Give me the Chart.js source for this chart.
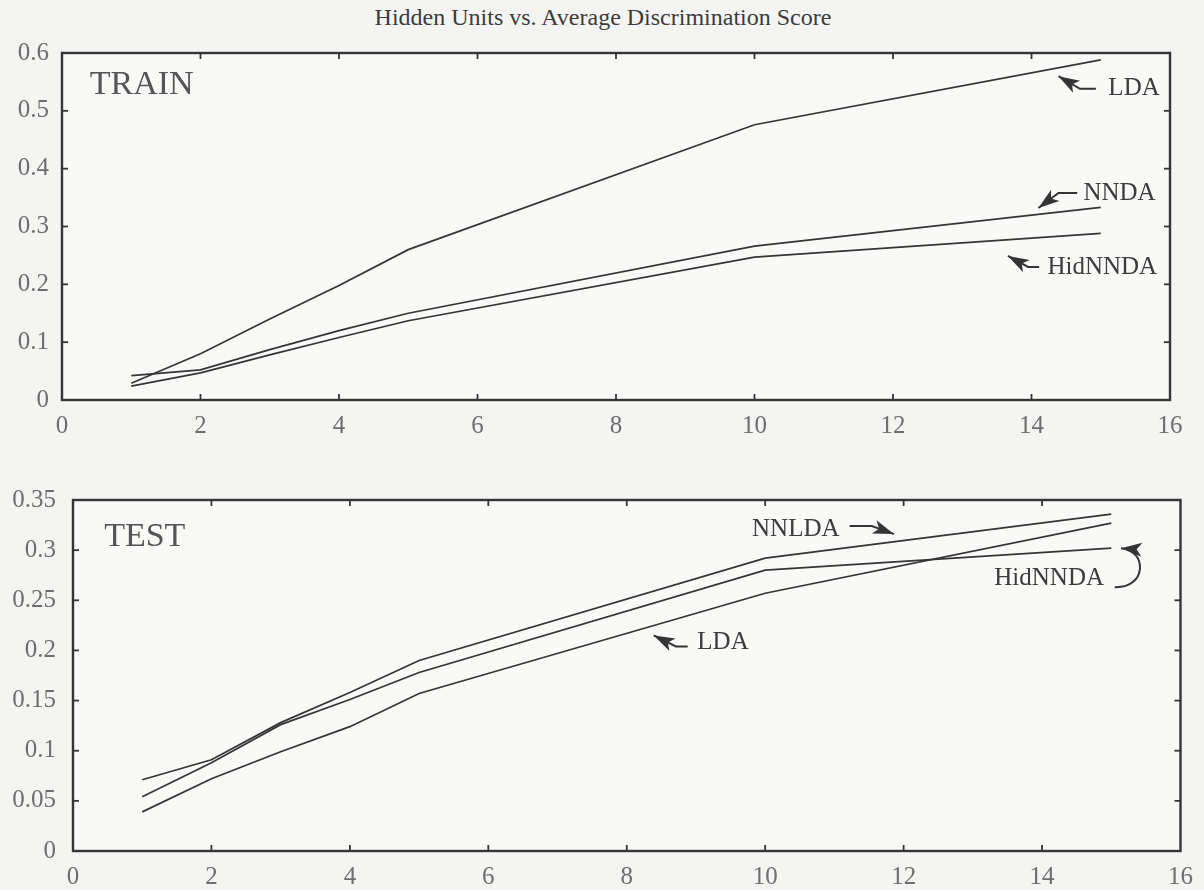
<!DOCTYPE html>
<html>
<head>
<meta charset="utf-8">
<script src="https://cdn.jsdelivr.net/npm/chart.js@4.4.1/dist/chart.umd.min.js"></script>
<style>
  html, body { margin: 0; padding: 0; width: 1204px; height: 890px; overflow: hidden; background: #f4f5f2; }
  body { position: relative; font-family: "Liberation Serif", "DejaVu Serif", serif; }
  #title { position: absolute; top: 4px; left: 603px; transform: translateX(-50%); white-space: nowrap;
           font-size: 24px; color: #3c3c3c; }
  canvas { position: absolute; left: 0; }
  #trainChart { top: 0; }
  #testChart { top: 450px; }
</style>
</head>
<body>
<div id="title">Hidden Units vs. Average Discrimination Score</div>
<canvas id="trainChart" width="1204" height="460"></canvas>
<canvas id="testChart" width="1204" height="440"></canvas>
<script>
// Number of hidden units (x) and average discrimination scores (y)
const hiddenUnits = [1, 2, 3, 4, 5, 10, 15];

const trainLDA     = [0.029, 0.080, 0.140, 0.198, 0.260, 0.476, 0.588];
const trainNNDA    = [0.042, 0.052, 0.087, 0.120, 0.150, 0.266, 0.333];
const trainHidNNDA = [0.024, 0.047, 0.078, 0.108, 0.137, 0.247, 0.288];

const testNNLDA    = [0.071, 0.091, 0.128, 0.158, 0.190, 0.292, 0.336];
const testHidNNDA  = [0.054, 0.088, 0.126, 0.151, 0.178, 0.280, 0.302];
const testLDA      = [0.039, 0.072, 0.099, 0.124, 0.157, 0.257, 0.327];

const xTicks = [0, 2, 4, 6, 8, 10, 12, 14, 16];

// Callouts, placed in data coordinates
const trainNotes = [
  { text: 'TRAIN', x: 0.40, y: 0.545, size: 34, color: '#555' },
  { text: 'LDA', x: 15.11, y: 0.538, size: 25 },
  { arrow: [[14.93, 0.538], [14.70, 0.538], [14.39, 0.560]] },
  { text: 'NNDA', x: 14.75, y: 0.358, size: 25 },
  { arrow: [[14.66, 0.358], [14.39, 0.358], [14.10, 0.332]] },
  { text: 'HidNNDA', x: 14.23, y: 0.230, size: 25 },
  { arrow: [[14.11, 0.230], [13.95, 0.230], [13.66, 0.249]] }
];
const testNotes = [
  { text: 'TEST', x: 0.45, y: 0.313, size: 34, color: '#555' },
  { text: 'NNLDA', x: 9.81, y: 0.321, size: 25 },
  { arrow: [[11.22, 0.324], [11.54, 0.324], [11.86, 0.316]] },
  { text: 'HidNNDA', x: 13.31, y: 0.272, size: 25 },
  { curve: [[15.05, 0.263], [15.52, 0.262], [15.52, 0.300], [15.14, 0.302]] },
  { text: 'LDA', x: 9.02, y: 0.208, size: 25 },
  { arrow: [[8.88, 0.204], [8.71, 0.204], [8.39, 0.215]] }
];

const INK = '#353535';
const TICK_COLOR = '#6e6e6e';
const SERIF = '"Liberation Serif", "DejaVu Serif", serif';

// Box frame around the plot area with inward tick marks on all four sides
const framePlugin = {
  id: 'frameTicks',
  beforeDatasetsDraw(chart) {
    const { ctx, chartArea: a } = chart;
    ctx.save();
    ctx.fillStyle = '#f9f9f7';
    ctx.fillRect(a.left, a.top, a.right - a.left, a.bottom - a.top);
    ctx.restore();
  },
  afterDatasetsDraw(chart) {
    const { ctx, chartArea: a, scales } = chart;
    const seg = (x1, y1, x2, y2) => { ctx.beginPath(); ctx.moveTo(x1, y1); ctx.lineTo(x2, y2); ctx.stroke(); };
    const L = 6;
    ctx.save();
    ctx.strokeStyle = INK;
    ctx.lineWidth = 1.8;
    scales.x.ticks.forEach(t => {
      const px = scales.x.getPixelForValue(t.value);
      if (px <= a.left + 1 || px >= a.right - 1) return;
      seg(px, a.bottom, px, a.bottom - L);
      seg(px, a.top, px, a.top + L);
    });
    scales.y.ticks.forEach(t => {
      const py = scales.y.getPixelForValue(t.value);
      if (py <= a.top + 1 || py >= a.bottom - 1) return;
      seg(a.left, py, a.left + L, py);
      seg(a.right, py, a.right - L, py);
    });
    ctx.lineWidth = 2.4;
    ctx.strokeRect(a.left, a.top, a.right - a.left, a.bottom - a.top);
    ctx.restore();
  }
};

function arrowHead(ctx, fx, fy, tx, ty) {
  const ang = Math.atan2(ty - fy, tx - fx);
  const len = 21, half = 7;
  const c = Math.cos(ang), s = Math.sin(ang);
  ctx.beginPath();
  ctx.moveTo(tx, ty);
  ctx.lineTo(tx - len * c + half * s, ty - len * s - half * c);
  ctx.lineTo(tx - 0.75 * len * c, ty - 0.75 * len * s);
  ctx.lineTo(tx - len * c - half * s, ty - len * s + half * c);
  ctx.closePath();
  ctx.fill();
}

// Text labels and pointer arrows
const notesPlugin = {
  id: 'panelNotes',
  afterDraw(chart, args, opts) {
    const { ctx, scales: { x, y } } = chart;
    const P = p => [x.getPixelForValue(p[0]), y.getPixelForValue(p[1])];
    ctx.save();
    ctx.strokeStyle = INK;
    ctx.fillStyle = INK;
    ctx.lineWidth = 2;
    (opts.items || []).forEach(n => {
      if (n.text) {
        ctx.font = n.size + 'px ' + SERIF;
        ctx.fillStyle = n.color || '#3c3c3c';
        ctx.textAlign = 'left';
        ctx.textBaseline = 'middle';
        ctx.fillText(n.text, x.getPixelForValue(n.x), y.getPixelForValue(n.y));
        ctx.fillStyle = INK;
      } else if (n.arrow) {
        const pts = n.arrow.map(P);
        ctx.beginPath();
        ctx.moveTo(pts[0][0], pts[0][1]);
        for (let i = 1; i < pts.length; i++) ctx.lineTo(pts[i][0], pts[i][1]);
        ctx.stroke();
        const a = pts[pts.length - 2], b = pts[pts.length - 1];
        arrowHead(ctx, a[0], a[1], b[0], b[1]);
      } else if (n.curve) {
        const [p0, c1, c2, p3] = n.curve.map(P);
        ctx.beginPath();
        ctx.moveTo(p0[0], p0[1]);
        ctx.bezierCurveTo(c1[0], c1[1], c2[0], c2[1], p3[0], p3[1]);
        ctx.stroke();
        arrowHead(ctx, c2[0], c2[1], p3[0], p3[1]);
      }
    });
    ctx.restore();
  }
};

function series(name, values) {
  return {
    label: name,
    data: hiddenUnits.map((h, i) => ({ x: h, y: values[i] })),
    borderColor: INK,
    borderWidth: 1.7,
    pointRadius: 0,
    tension: 0,
    fill: false
  };
}

const trimLabel = v => String(Number(v.toFixed(2)));

function makePanel(id, datasets, yMax, yStep, frame, notes) {
  return new Chart(document.getElementById(id), {
    type: 'line',
    data: { datasets },
    options: {
      responsive: false,
      animation: false,
      devicePixelRatio: 1,
      layout: { padding: { top: frame.top, right: frame.right, left: 0, bottom: 0 } },
      plugins: {
        legend: { display: false },
        tooltip: { enabled: false },
        panelNotes: { items: notes }
      },
      scales: {
        x: {
          type: 'linear', min: 0, max: 16,
          afterBuildTicks: s => { s.ticks = xTicks.map(v => ({ value: v })); },
          ticks: { color: TICK_COLOR, font: { family: SERIF, size: 25 }, padding: 11, maxRotation: 0, autoSkip: false },
          grid: { display: false, drawTicks: false },
          border: { display: false },
          afterFit: s => { s.height = frame.axisH; }
        },
        y: {
          type: 'linear', min: 0, max: yMax,
          ticks: { stepSize: yStep, color: TICK_COLOR, font: { family: SERIF, size: 25 }, padding: frame.labelPad,
                   autoSkip: false, callback: trimLabel },
          grid: { display: false, drawTicks: false },
          border: { display: false },
          afterFit: s => { s.width = frame.left; }
        }
      }
    },
    plugins: [framePlugin, notesPlugin]
  });
}

makePanel('trainChart',
  [series('LDA', trainLDA), series('NNDA', trainNNDA), series('HidNNDA', trainHidNNDA)],
  0.6, 0.1, { top: 53, right: 34, left: 62, axisH: 60, labelPad: 13 }, trainNotes);

makePanel('testChart',
  [series('NNLDA', testNNLDA), series('HidNNDA', testHidNNDA), series('LDA', testLDA)],
  0.35, 0.05, { top: 50, right: 19, left: 73, axisH: 39, labelPad: 17 }, testNotes);
</script>
</body>
</html>
